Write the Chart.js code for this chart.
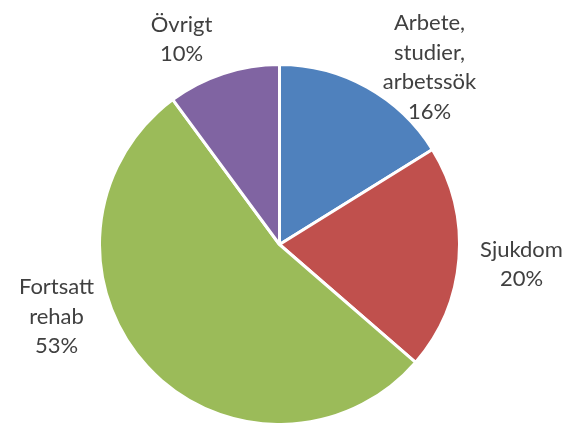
<!DOCTYPE html>
<html>
<head>
<meta charset="utf-8">
<script src="https://cdn.jsdelivr.net/npm/chart.js@4/dist/chart.umd.min.js"></script>
<style>
  html, body { margin: 0; padding: 0; background: #ffffff; }
  #wrap { width: 566px; height: 423px; }
</style>
</head>
<body>
<div id="wrap"><canvas id="c" width="566" height="423"></canvas></div>
<script>
// Categories (each label split into its display lines) and their shares in percent
const categories = [
  ['Arbete,', 'studier,', 'arbetssök'],
  ['Sjukdom'],
  ['Fortsatt', 'rehab'],
  ['Övrigt']
];
const shares = [16, 20, 53, 10];
const sliceColors = ['#4F81BD', '#C0504D', '#9BBB59', '#8064A2'];

// Where each label block sits, relative to the pie centre (px)
const labelOffsets = [
  [150, -177],
  [242, 20],
  [-223, 72],
  [-98, -205]
];

const LABEL_FONT = '22px Lato, "Open Sans", sans-serif';
const LINE_HEIGHT = 29.5;

// Draws the category name and its share beside each slice
const outsideLabels = {
  id: 'outsideLabels',
  afterDatasetsDraw(chart) {
    const ctx = chart.ctx;
    const meta = chart.getDatasetMeta(0);
    const values = chart.data.datasets[0].data;
    ctx.save();
    ctx.font = LABEL_FONT;
    ctx.fillStyle = '#404040';
    ctx.textAlign = 'center';
    ctx.textBaseline = 'middle';
    meta.data.forEach((arc, i) => {
      const lines = chart.data.labels[i].concat([values[i] + '%']);
      const cx = arc.x + labelOffsets[i][0];
      const cy = arc.y + labelOffsets[i][1];
      const top = cy - (lines.length - 1) * LINE_HEIGHT / 2;
      lines.forEach((ln, k) => ctx.fillText(ln, cx, top + k * LINE_HEIGHT));
    });
    ctx.restore();
  }
};

new Chart(document.getElementById('c'), {
  type: 'pie',
  data: {
    labels: categories,
    datasets: [{
      data: shares,
      backgroundColor: sliceColors,
      borderColor: '#ffffff',
      borderWidth: 3
    }]
  },
  options: {
    responsive: false,
    animation: false,
    radius: 180,
    layout: { padding: { left: 0, right: 7, top: 66, bottom: 0 } },
    plugins: {
      legend: { display: false },
      tooltip: { enabled: false }
    }
  },
  plugins: [outsideLabels]
});
</script>
</body>
</html>
